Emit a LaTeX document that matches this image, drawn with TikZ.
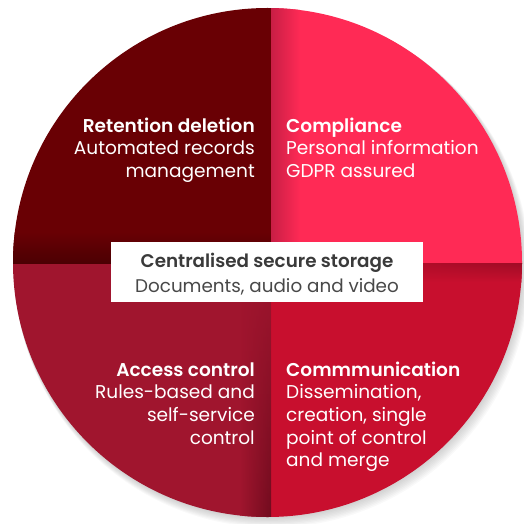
\documentclass[tikz,border=0pt]{standalone}
\usepackage{fontspec}
\setmainfont{Poppins}[BoldFont={Poppins SemiBold}]
\usetikzlibrary{fadings}
\definecolor{qTL}{HTML}{690004}
\definecolor{qTLd}{HTML}{4C0003}
\definecolor{qTR}{HTML}{FF2A55}
\definecolor{qTRd}{HTML}{C81E45}
\definecolor{qBL}{HTML}{A0152E}
\definecolor{qBLd}{HTML}{700C1E}
\definecolor{qBR}{HTML}{C80F2E}
\definecolor{qBRd}{HTML}{A00C26}
\definecolor{boxtitle}{HTML}{3A3A3A}
\definecolor{boxtext}{HTML}{484848}
\tikzset{
  lbl/.style={text=white, inner sep=0pt, font=\fontsize{18.6}{22.7}\selectfont},
  boxlbl/.style={inner sep=0pt, font=\fontsize{18.4}{25}\selectfont, align=center},
}
\begin{document}
\begin{tikzpicture}[x=1bp,y=-1bp]
\useasboundingbox (0,0) rectangle (524,524);
% soft shadow
\foreach \i in {1,...,8}{
  \fill[black, opacity=0.025] (267.5+0.6*\i,262.5+0.9*\i) circle (254.5+0.4*\i);
}
\begin{scope}
\clip (267.5,262.5) circle (254.5);
\fill[qTL] (0,0) rectangle (271,263);
\fill[qTR] (271,0) rectangle (524,263);
\fill[qBL] (0,263) rectangle (271,524);
\fill[qBR] (271,263) rectangle (524,524);
% shading accents
\shade[top color=qTL, bottom color=qTLd] (0,232) rectangle (271,263);
\shade[left color=qTRd, right color=qTR] (271,0) rectangle (300,263);
\shade[left color=qBL, right color=qBLd, path fading=north] (240,263) rectangle (271,524);
\shade[top color=qBRd, bottom color=qBR, path fading=west] (271,263) rectangle (524,282);
\end{scope}
% centre box
\fill[white] (111,242) rectangle (423,302);
\node[boxlbl, anchor=base] (ctitle) at (267,267) {\textcolor{boxtitle}{\bfseries Centralised secure storage}};
\node[boxlbl, anchor=base] (csub) at (267,292) {\textcolor{boxtext}{Documents, audio and video}};
% quadrant labels (anchor = baseline of last line)
\node[lbl, anchor=base east, align=right] (ret) at (255,177.4) {\textbf{Retention deletion}\\Automated records\\management};
\node[lbl, anchor=base west, align=left] (comp) at (286,177.4) {\textbf{Compliance}\\Personal information\\GDPR assured};
\node[lbl, anchor=base east, align=right] (acc) at (255,444.1) {\textbf{Access control}\\Rules-based and\\self-service\\control};
\node[lbl, anchor=base west, align=left] (comm) at (286,466.8) {\textbf{Commmunication}\\Dissemination,\\creation, single\\point of control\\and merge};
\end{tikzpicture}
\end{document}
